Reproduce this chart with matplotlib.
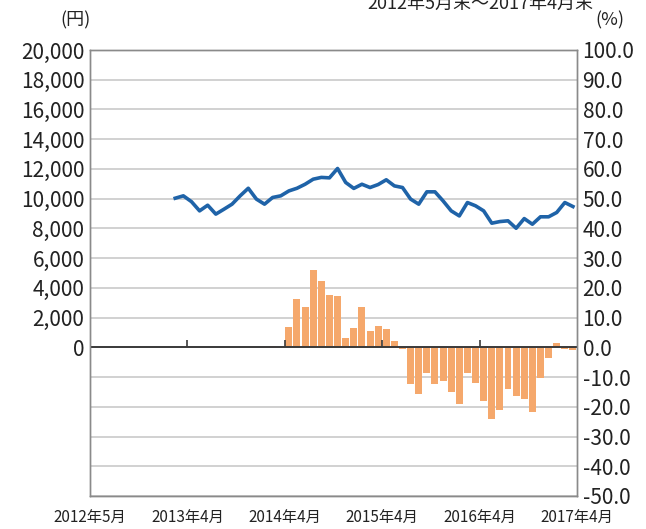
import matplotlib
matplotlib.use("Agg")
import matplotlib.pyplot as plt
import numpy as np
from matplotlib.ticker import FuncFormatter

plt.rcParams["font.family"] = ["Noto Sans CJK JP", "DejaVu Sans"]

# month index 0 = 2012年5月末 ... 59 = 2017年4月末
N_MONTHS = 60
LINE_START = 10

price = [
    10030, 10190, 9800, 9180, 9560, 8960, 9290, 9630, 10190, 10700,
    9970, 9630, 10080, 10190, 10520, 10700, 10970, 11310, 11430, 11400,
    12030, 11090, 10690, 10970, 10750, 10950, 11270, 10860, 10750, 9970,
    9630, 10460, 10460, 9850, 9180, 8840, 9740, 9520, 9180, 8350,
    8460, 8510, 8010, 8660, 8280, 8780, 8780, 9070, 9740, 9470,
]

BAR_START = 22
change_pct = [
    0.5, 0.2, 6.8, 16.4, 13.6, 26.0, 22.3, 17.5, 17.3, 3.3,
    6.6, 13.4, 5.5, 7.2, 6.3, 2.1, -0.7, -12.5, -15.6, -8.5,
    -12.5, -11.3, -14.9, -19.2, -8.5, -12.1, -18.1, -24.0, -21.2, -13.9,
    -16.4, -17.3, -21.7, -10.2, -3.5, 1.3, -0.5, -0.8,
]

tick_pos = [0, 12, 24, 36, 48, 60]
tick_labels = ["2012年5月", "2013年4月", "2014年4月", "2015年4月", "2016年4月", "2017年4月"]

LINE_COLOR = "#1f63a8"
BAR_COLOR = "#f5a86c"
GRID_COLOR = "#c9c9c9"
SPINE_COLOR = "#8a8a8a"

fig = plt.figure(figsize=(6.46, 5.29), dpi=100)
ax = fig.add_axes([90 / 646, 1 - 496 / 529, 487 / 646, 446 / 529])
ax2 = ax.twinx()
ax.set_zorder(ax2.get_zorder() + 1)
ax.patch.set_visible(False)

centers = np.arange(N_MONTHS) + 0.5

# bars (right axis, %)
ax2.bar(centers[BAR_START:BAR_START + len(change_pct)], change_pct, width=0.86,
        color=BAR_COLOR, edgecolor="none", zorder=2)
ax2.set_ylim(-50, 100)
ax2.set_yticks(np.arange(-50, 101, 10))
ax2.yaxis.set_major_formatter(FuncFormatter(lambda v, p: f"{v:.1f}"))
ax2.grid(axis="y", color=GRID_COLOR, linewidth=1.2, zorder=0)
ax2.set_axisbelow(True)
ax2.axhline(0, color="#3a3a3a", linewidth=1.4, zorder=3)
ax2.plot(tick_pos[1:-1], [0] * (len(tick_pos) - 2), ls="none", marker=2,
         ms=5, mew=1.2, color="#3a3a3a", zorder=3)

# line (left axis, yen)
ax.plot(centers[LINE_START:LINE_START + len(price)], price, color=LINE_COLOR,
        linewidth=2.6, solid_joinstyle="round", zorder=4)
ax.set_ylim(-10000, 20000)
ax.set_yticks(np.arange(0, 20001, 2000))
ax.yaxis.set_major_formatter(FuncFormatter(lambda v, p: f"{int(v):,}"))

ax.set_xlim(0, N_MONTHS)
ax.set_xticks(tick_pos)
ax.set_xticklabels(tick_labels, fontsize=11)

for a in (ax, ax2):
    a.tick_params(axis="y", length=0, labelsize=15, pad=4, colors="#222222")
    a.tick_params(axis="x", length=0, pad=9, colors="#222222")
    for s in a.spines.values():
        s.set_color(SPINE_COLOR)
        s.set_linewidth(1.0)

fig.text(75 / 646, 1 - 20 / 529, "(円)", ha="center", va="center", fontsize=13, color="#222222")
fig.text(610 / 646, 1 - 20 / 529, "(%)", ha="center", va="center", fontsize=13, color="#222222")
fig.text(480 / 646, 1 - 4 / 529, "2012年5月末～2017年4月末", ha="center", va="center",
         fontsize=13, color="#222222")

fig.savefig("out.png", dpi=100)
